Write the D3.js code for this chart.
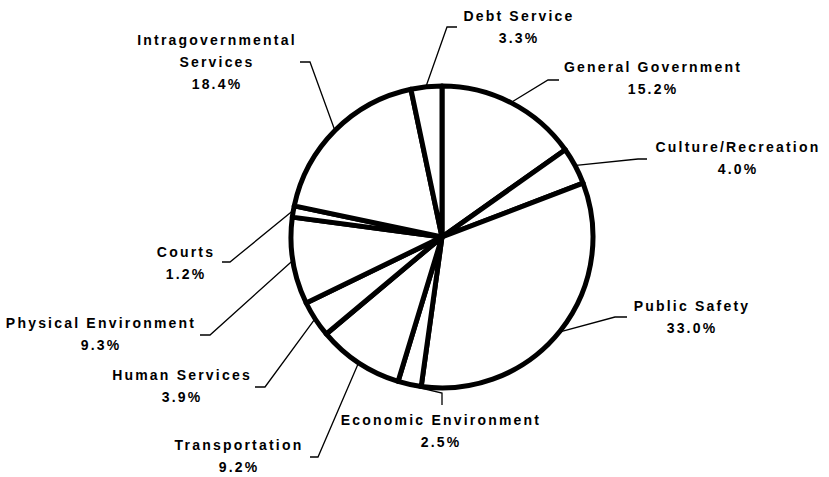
<!DOCTYPE html>
<html>
<head>
<meta charset="utf-8">
<script src="https://cdn.jsdelivr.net/npm/d3@7"></script>
<style>
  body { margin: 0; background: #fff; }
  text { font-family: "Liberation Sans", Arial, sans-serif; font-weight: bold; font-size: 14px; letter-spacing: 2.2px; fill: #000; }
</style>
</head>
<body>
<div id="chart"></div>
<script>
// Slices, clockwise from 12 o'clock
var categories = ["General Government", "Culture/Recreation", "Public Safety", "Economic Environment",
  "Transportation", "Human Services", "Physical Environment", "Courts",
  "Intragovernmental Services", "Debt Service"];
var shares = [15.2, 4.0, 33.0, 2.5, 9.2, 3.9, 9.3, 1.2, 18.4, 3.3];
var shareLabels = ["15.2%", "4.0%", "33.0%", "2.5%", "9.2%", "3.9%", "9.3%", "1.2%", "18.4%", "3.3%"];

// where each label sits (text centre x, first baseline, leader elbow and end)
var labelLayout = {
  "General Government":         { x: 652, y: 72,  elbow: [548, 80],  end: [559, 80] },
  "Culture/Recreation":         { x: 737, y: 152, elbow: [638, 159], end: [647, 159] },
  "Public Safety":              { x: 691, y: 311, elbow: [615, 317], end: [627, 317] },
  "Economic Environment":       { x: 440, y: 425, elbow: [442, 393], end: [442, 405] },
  "Transportation":             { x: 238, y: 450, elbow: [318, 457], end: [310, 457] },
  "Human Services":             { x: 181, y: 380, elbow: [265, 387], end: [255, 387] },
  "Physical Environment":       { x: 100, y: 328, elbow: [210, 335], end: [200, 335] },
  "Courts":                     { x: 185, y: 257, elbow: [230, 262], end: [222, 262] },
  "Intragovernmental Services": { x: 216, y: 45,  elbow: [310, 62],  end: [300, 62], lines: ["Intragovernmental", "Services"] },
  "Debt Service":               { x: 518, y: 21,  elbow: [447, 27],  end: [457, 27] }
};

var width = 829, height = 477;
var cx = 442, cy = 237, radius = 151;

var svg = d3.select("#chart")
  .append("svg")
  .attr("width", width)
  .attr("height", height);

var data = categories.map(function(c, i) {
  return { name: c, value: shares[i], label: shareLabels[i] };
});

var pie = d3.pie()
  .sort(null)
  .value(function(d) { return d.value; });

var arc = d3.arc()
  .innerRadius(0)
  .outerRadius(radius);

// point on the rim where a leader line starts
var rimArc = d3.arc()
  .innerRadius(radius + 1)
  .outerRadius(radius + 1);

var arcs = pie(data);

var g = svg.append("g")
  .attr("transform", "translate(" + cx + "," + cy + ")");

g.selectAll("path.slice")
  .data(arcs)
  .enter()
  .append("path")
  .attr("class", "slice")
  .attr("d", arc)
  .style("fill", "#fff")
  .style("stroke", "#000")
  .style("stroke-width", 5)
  .style("stroke-linejoin", "round");

// leader lines
var line = d3.line();
svg.selectAll("path.leader")
  .data(arcs)
  .enter()
  .append("path")
  .attr("class", "leader")
  .attr("d", function(d) {
    var p = rimArc.centroid(d);
    var lay = labelLayout[d.data.name];
    return line([[cx + p[0], cy + p[1]], lay.elbow, lay.end]);
  })
  .style("fill", "none")
  .style("stroke", "#000")
  .style("stroke-width", 1.3);

// labels
var labels = svg.selectAll("text.lbl")
  .data(arcs)
  .enter()
  .append("text")
  .attr("class", "lbl")
  .attr("text-anchor", "middle");

labels.each(function(d) {
  var lay = labelLayout[d.data.name];
  var lines = (lay.lines || [d.data.name]).concat([d.data.label]);
  var t = d3.select(this);
  lines.forEach(function(s, i) {
    t.append("tspan")
      .attr("x", lay.x + 1)
      .attr("y", lay.y + i * 22)
      .text(s);
  });
});
</script>
</body>
</html>
